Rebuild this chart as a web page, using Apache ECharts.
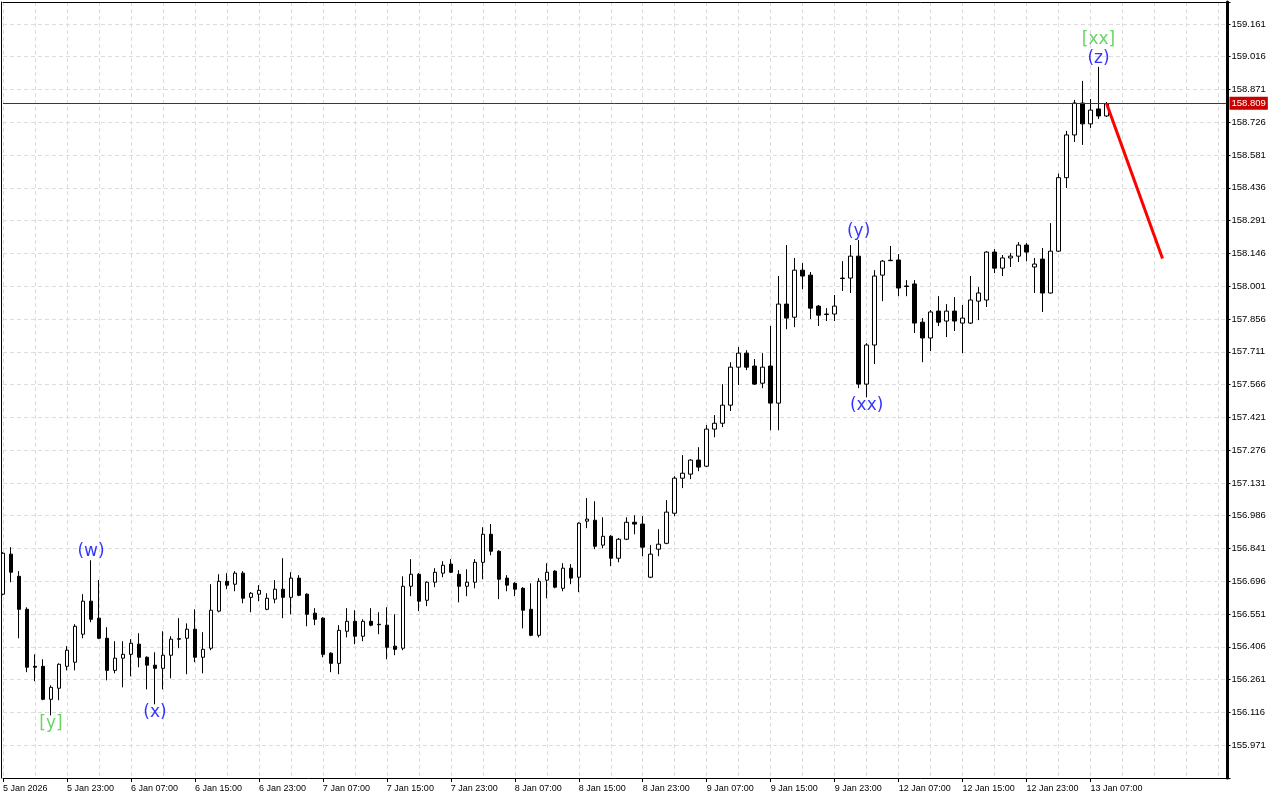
<!DOCTYPE html>
<html>
<head>
<meta charset="utf-8">
<script src="https://cdn.jsdelivr.net/npm/echarts@6/dist/echarts.min.js"></script>
<style>
html,body{margin:0;padding:0;background:#fff;}
#chart{width:1280px;height:800px;}
</style>
</head>
<body>
<div id="chart"></div>
<script>
// ---- data (H1 bars, 5 Jan 2026 15:00 .. 13 Jan 2026) ----
const tickLabels = ["5 Jan 2026","5 Jan 23:00","6 Jan 07:00","6 Jan 15:00","6 Jan 23:00","7 Jan 07:00","7 Jan 15:00","7 Jan 23:00","8 Jan 07:00","8 Jan 15:00","8 Jan 23:00","9 Jan 07:00","9 Jan 15:00","9 Jan 23:00","12 Jan 07:00","12 Jan 15:00","12 Jan 23:00","13 Jan 07:00"];

const openP = [
156.639,156.816,156.718,156.572,156.320,156.320,156.174,156.223,156.320,156.338,
156.462,156.608,156.533,156.444,156.302,156.356,156.373,156.418,156.360,156.325,
156.311,156.369,156.442,156.444,156.484,156.360,156.400,156.564,156.696,156.683,
156.732,156.625,156.639,156.572,156.617,156.661,156.625,156.710,156.639,156.555,
156.533,156.378,156.333,156.475,156.519,156.453,156.519,156.506,156.502,156.409,
156.400,156.674,156.727,156.612,156.692,156.732,156.772,156.727,156.674,156.692,
156.780,156.904,156.829,156.710,156.687,156.665,156.572,156.457,156.701,156.741,
156.665,156.754,156.714,156.962,156.966,156.856,156.895,156.798,156.882,156.957,
156.949,156.714,156.838,156.864,156.997,157.152,157.170,157.232,157.205,157.369,
157.395,157.475,157.643,157.705,157.648,157.572,157.648,157.484,157.922,157.864,
158.072,158.050,157.913,157.878,157.878,158.035,158.037,158.134,157.568,157.741,
158.050,158.114,158.117,158.002,158.011,157.842,157.772,157.891,157.847,157.891,
157.838,157.838,157.935,157.940,158.152,158.081,158.126,158.134,158.183,158.086,
158.121,157.971,158.156,158.481,158.670,158.811,158.719,158.785,158.754];

const closeP = [
156.820,156.736,156.572,156.316,156.316,156.174,156.227,156.329,156.391,156.497,
156.608,156.528,156.444,156.302,156.356,156.373,156.422,156.360,156.325,156.311,
156.369,156.440,156.440,156.484,156.360,156.395,156.568,156.696,156.679,156.732,
156.621,156.643,156.656,156.621,156.661,156.625,156.710,156.634,156.550,156.528,
156.373,156.333,156.479,156.519,156.453,156.519,156.502,156.504,156.404,156.395,
156.674,156.727,156.608,156.692,156.736,156.767,156.736,156.674,156.692,156.780,
156.904,156.829,156.705,156.679,156.661,156.568,156.457,156.696,156.736,156.670,
156.754,156.710,156.953,156.971,156.851,156.895,156.798,156.882,156.957,156.949,
156.847,156.816,156.860,157.002,157.152,157.174,157.232,157.201,157.369,157.395,
157.475,157.643,157.705,157.643,157.568,157.643,157.484,157.922,157.860,158.072,
158.046,157.904,157.873,157.876,157.913,158.037,158.134,157.568,157.741,158.046,
158.112,158.116,157.993,158.000,157.838,157.772,157.887,157.842,157.891,157.847,
157.860,157.940,157.971,158.152,158.081,158.126,158.134,158.183,158.152,158.099,
157.971,158.156,158.481,158.670,158.811,158.719,158.780,158.754,158.809];

const lowP = [
156.634,156.692,156.444,156.294,156.254,156.170,156.103,156.170,156.302,156.302,
156.444,156.515,156.440,156.258,156.289,156.227,156.276,156.316,156.218,156.152,
156.218,156.267,156.400,156.285,156.338,156.289,156.391,156.559,156.661,156.652,
156.599,156.559,156.608,156.568,156.599,156.533,156.550,156.630,156.497,156.502,
156.360,156.294,156.285,156.448,156.418,156.431,156.497,156.462,156.351,156.369,
156.391,156.630,156.564,156.586,156.670,156.714,156.732,156.603,156.630,156.665,
156.705,156.811,156.617,156.652,156.630,156.488,156.453,156.448,156.621,156.665,
156.652,156.683,156.648,156.931,156.838,156.842,156.763,156.780,156.878,156.904,
156.807,156.710,156.807,156.860,156.984,157.108,157.148,157.183,157.201,157.333,
157.378,157.449,157.564,157.630,157.564,157.550,157.364,157.364,157.811,157.820,
157.988,157.856,157.825,157.847,157.847,157.980,157.971,157.550,157.510,157.657,
157.935,158.112,157.957,157.957,157.794,157.665,157.714,157.825,157.776,157.803,
157.705,157.834,157.851,157.909,158.059,158.046,158.086,158.108,158.112,157.971,
157.887,157.969,158.152,158.435,158.639,158.626,158.701,158.741,158.749];

const highP = [
156.825,156.847,156.741,156.581,156.373,156.351,156.236,156.333,156.409,156.506,
156.639,156.789,156.701,156.493,156.431,156.431,156.440,156.466,156.364,156.382,
156.475,156.453,156.533,156.510,156.572,156.471,156.683,156.727,156.732,156.741,
156.741,156.648,156.679,156.643,156.701,156.798,156.736,156.723,156.643,156.577,
156.537,156.382,156.502,156.577,156.568,156.528,156.577,156.559,156.581,156.550,
156.718,156.794,156.732,156.696,156.754,156.785,156.794,156.745,156.749,156.794,
156.935,156.949,156.833,156.723,156.692,156.670,156.687,156.710,156.776,156.745,
156.776,156.772,156.957,157.064,157.050,156.979,156.900,156.887,156.979,156.988,
156.984,156.856,156.926,157.055,157.161,157.254,157.236,157.289,157.387,157.431,
157.568,157.665,157.732,157.718,157.679,157.705,157.825,158.046,158.183,158.126,
158.103,158.064,157.918,157.904,157.962,158.112,158.183,158.205,157.749,158.072,
158.117,158.179,158.143,158.028,158.028,157.860,157.895,157.957,157.922,157.953,
157.918,158.046,157.997,158.156,158.165,158.139,158.148,158.196,158.192,158.126,
158.170,158.280,158.499,158.688,158.825,158.909,158.829,158.971,158.816];

const currentPrice = 158.809;
const forecastIdx = [138, 145];
const forecastPrice = [158.809, 158.124];

const waveIdx  = [6, 11, 19, 107, 108, 137, 137];
const waveText = ["[y]", "(w)", "(x)", "(y)", "(xx)", "(z)", "[xx]"];
const waveSide = ["low", "high", "low", "high", "low", "high", "high"];
const waveLevel = [0, 0, 0, 0, 0, 0, 1];

const yMin = 155.826, yMax = 159.258, yStep = 0.145;
const totalSlots = 154;

// ---- build ----
const cats = [];
for (let i = 0; i < totalSlots; i++) cats.push(String(i));
const candles = openP.map((o, i) => [o, closeP[i], lowP[i], highP[i]]);

const labelAt = (i) => i % 8 === 0 && (i / 8) < tickLabels.length;
const FONT_AX = 'Liberation Sans';
const GRID_COLOR = '#dcdcdc';

const waveData = waveIdx.map((idx, k) => {
  const isHigh = waveSide[k] === 'high';
  const price = isHigh ? highP[idx] : lowP[idx];
  const green = waveText[k].charAt(0) === '[';
  return {
    value: [String(idx), price],
    label: {
      show: true,
      formatter: waveText[k],
      position: isHigh ? 'top' : 'bottom',
      distance: waveLevel[k] ? 19 : 0,
      color: green ? '#44c93c' : '#0000ff',
      fontSize: 17,
      fontFamily: 'DejaVu Sans'
    }
  };
});

const chart = echarts.init(document.getElementById('chart'), null, {renderer: 'canvas'});
chart.setOption({
  animation: false,
  backgroundColor: '#ffffff',
  grid: {left: 2.5, right: 53.5, top: 2, bottom: 22, containLabel: false},
  xAxis: [{
    type: 'category',
    data: cats,
    boundaryGap: false,
    axisLine: {show: true, lineStyle: {color: '#000', width: 1}},
    axisTick: {show: true, interval: (i) => labelAt(i), length: 4, lineStyle: {color: '#000'}},
    axisLabel: {
      show: true,
      interval: (i) => labelAt(i),
      formatter: (v, i) => labelAt(i) ? tickLabels[i / 8] : '',
      align: 'left',
      fontSize: 9,
      fontFamily: FONT_AX,
      color: '#000',
      margin: 6
    },
    splitLine: {show: true, interval: (i) => i % 4 === 0, lineStyle: {color: GRID_COLOR, type: [4, 3], width: 1}}
  }, {
    type: 'category',
    data: cats,
    boundaryGap: false,
    position: 'top',
    axisLine: {show: true, lineStyle: {color: '#000', width: 1}},
    axisTick: {show: false},
    axisLabel: {show: false},
    splitLine: {show: false}
  }],
  yAxis: [{
    type: 'value',
    position: 'right',
    min: yMin,
    max: yMax,
    interval: yStep,
    offset: 1,
    scale: true,
    axisLine: {show: true, lineStyle: {color: '#000', width: 3}},
    axisTick: {show: true, length: 3, lineStyle: {color: '#000'}},
    axisLabel: {
      show: true,
      fontSize: 9.5,
      fontFamily: FONT_AX,
      color: '#000',
      margin: 4,
      formatter: (v) => {
        const k = Math.round((v - yMin) / yStep);
        if (k < 1 || Math.abs(v - (yMin + k * yStep)) > 1e-6 || yMin + k * yStep > yMax) return '';
        return v.toFixed(3);
      }
    },
    splitLine: {show: true, lineStyle: {color: GRID_COLOR, type: [4, 3], width: 1}}
  }, {
    type: 'value',
    position: 'left',
    min: yMin,
    max: yMax,
    offset: 1.5,
    axisLine: {show: true, lineStyle: {color: '#000', width: 1}},
    axisTick: {show: false},
    axisLabel: {show: false},
    splitLine: {show: false}
  }],
  series: [{
    type: 'candlestick',
    xAxisIndex: 0,
    yAxisIndex: 0,
    data: candles,
    barWidth: 4,
    clip: false,
    itemStyle: {
      color: '#ffffff',
      color0: '#000000',
      borderColor: '#000000',
      borderColor0: '#000000',
      borderColorDoji: '#000000',
      borderWidth: 1
    },
    markLine: {
      silent: true,
      symbol: 'none',
      animation: false,
      data: [{yAxis: currentPrice}],
      lineStyle: {color: '#c00000', width: 1, type: 'solid'},
      label: {
        show: true,
        position: 'end',
        formatter: currentPrice.toFixed(3),
        backgroundColor: '#c80000',
        color: '#ffffff',
        fontSize: 9.5,
        fontFamily: FONT_AX,
        lineHeight: 11,
        padding: [1, 2, 1, 2],
        distance: 3
      },
      emphasis: {disabled: true}
    }
  }, {
    type: 'line',
    xAxisIndex: 0,
    yAxisIndex: 0,
    data: forecastIdx.map((x, k) => [String(x), forecastPrice[k]]),
    symbol: 'none',
    lineStyle: {color: '#ff0000', width: 3},
    z: 5,
    silent: true
  }, {
    type: 'scatter',
    xAxisIndex: 0,
    yAxisIndex: 0,
    data: waveData,
    symbolSize: 0,
    itemStyle: {color: 'rgba(0,0,0,0)'},
    z: 6,
    silent: true
  }]
});
</script>
</body>
</html>
